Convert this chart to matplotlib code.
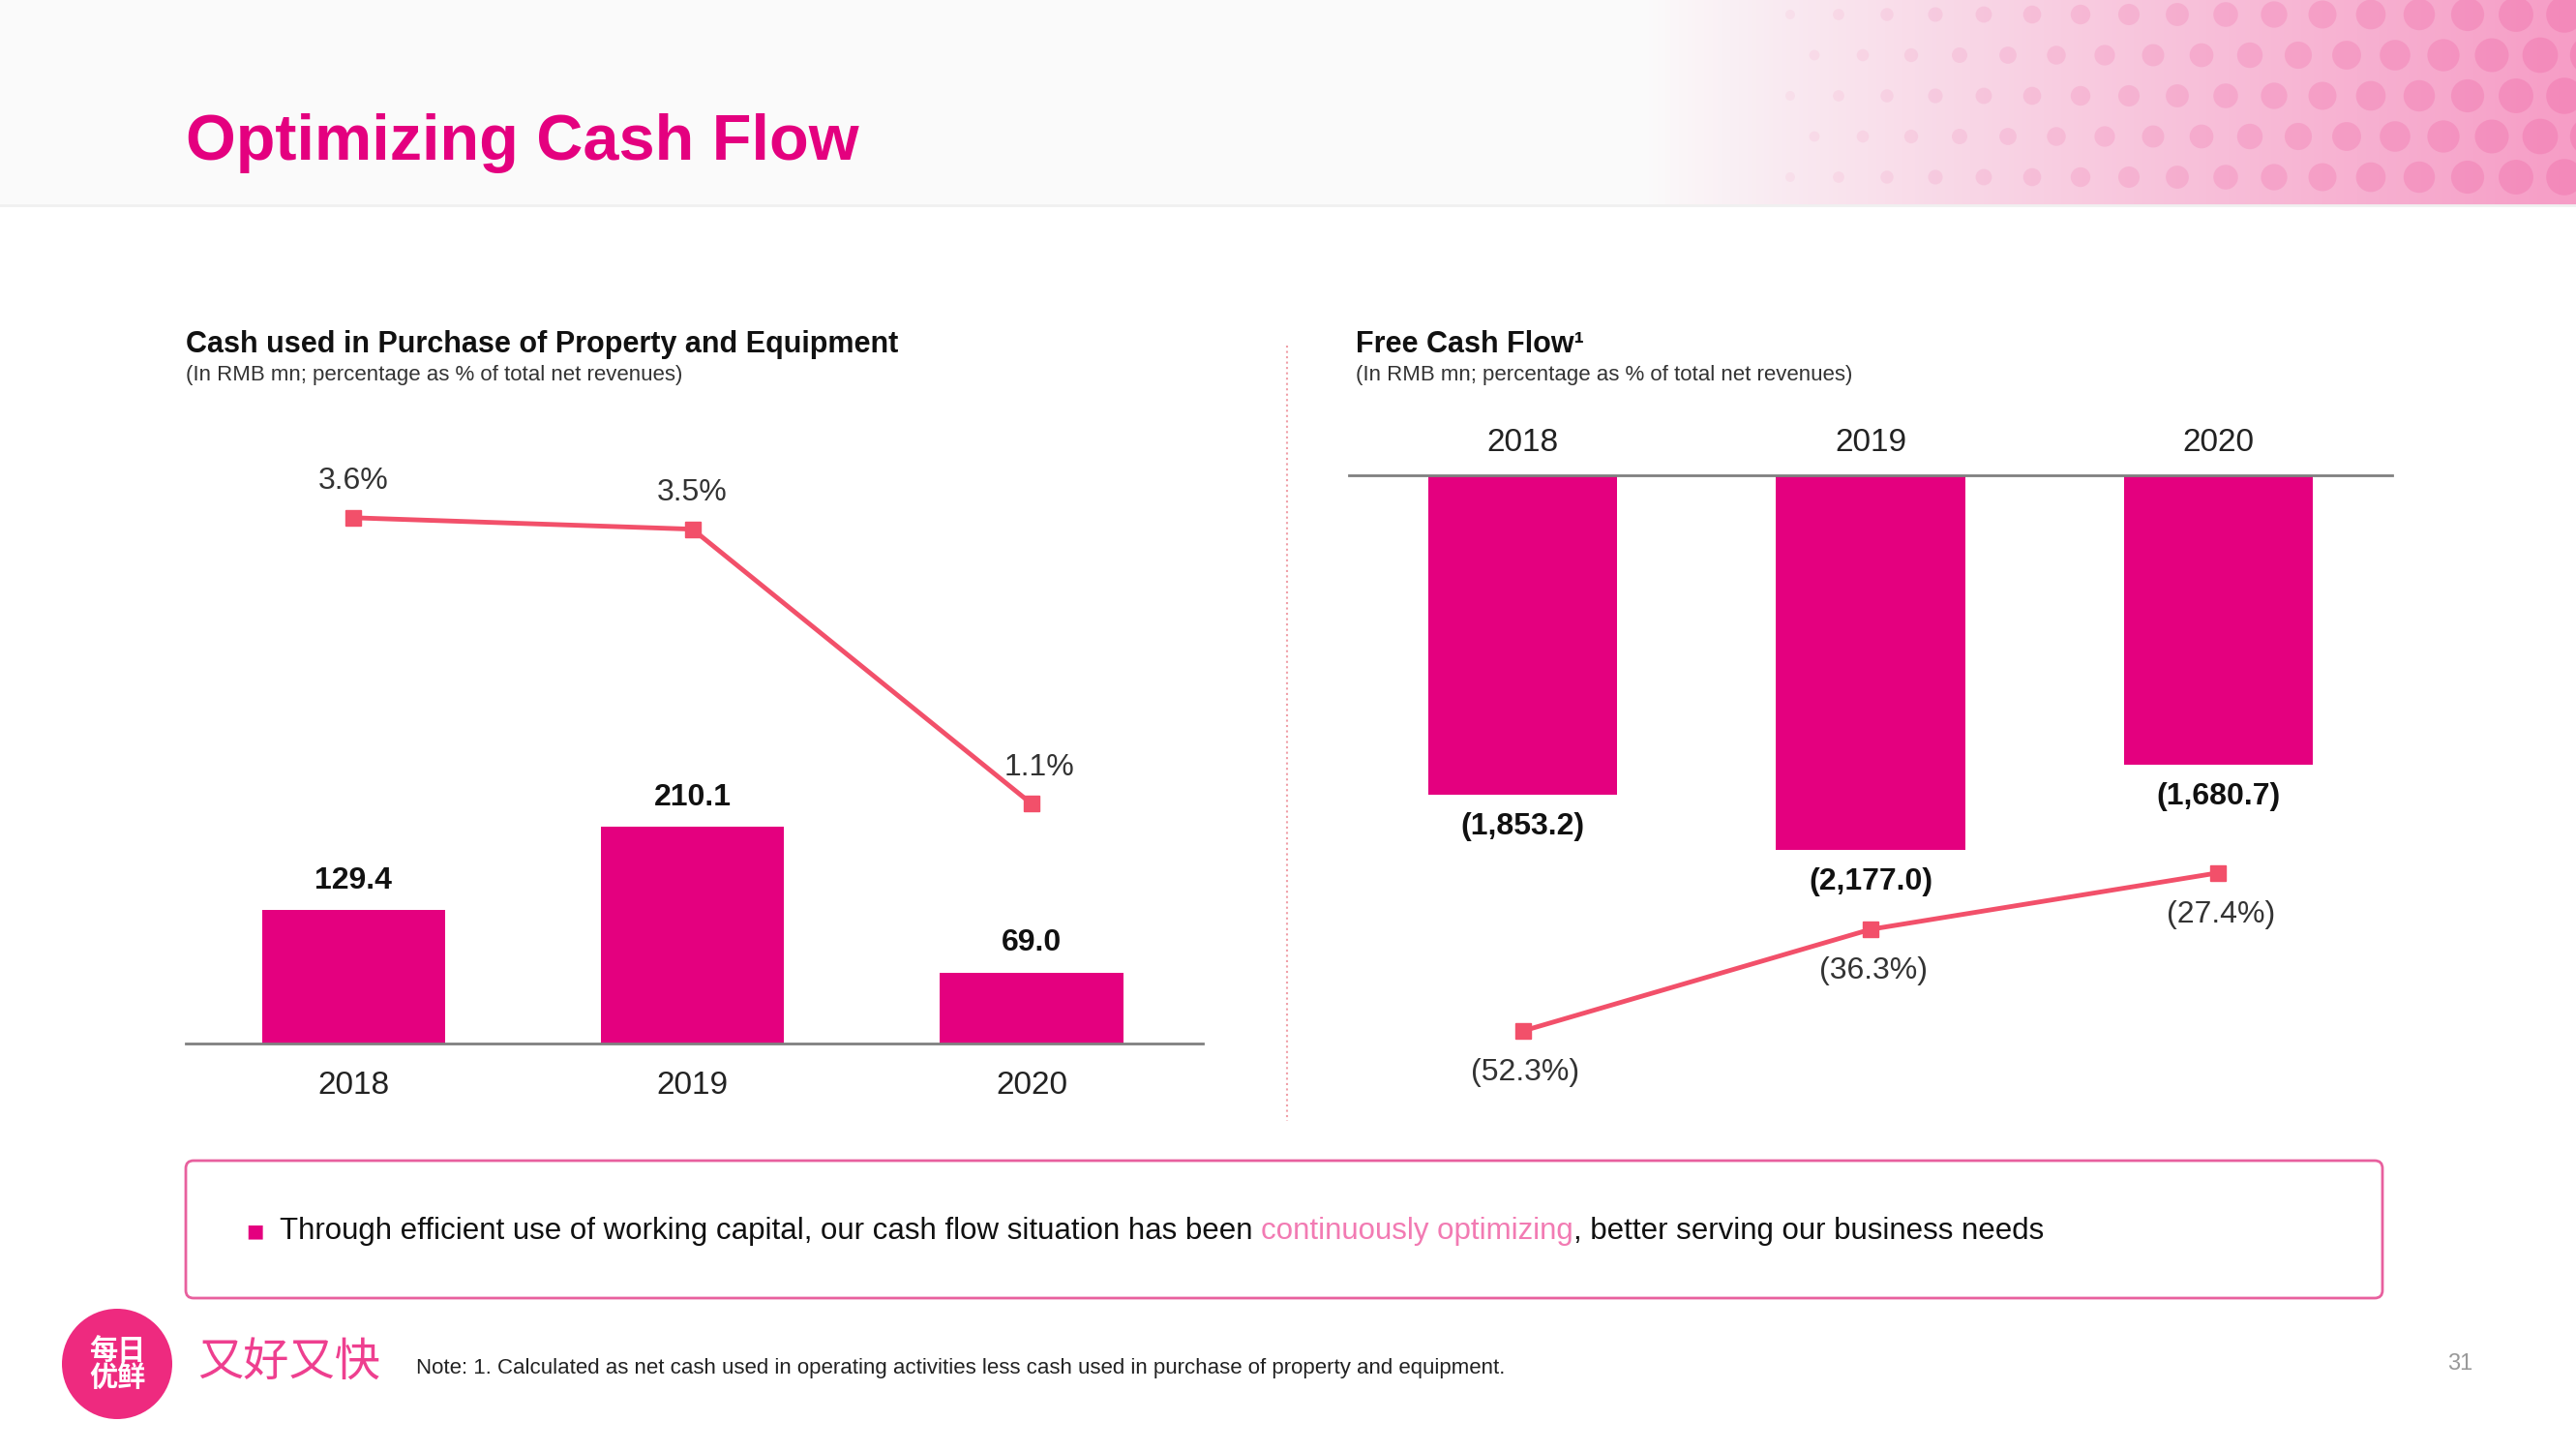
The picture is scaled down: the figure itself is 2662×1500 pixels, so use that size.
import numpy as np
import matplotlib.pyplot as plt
from matplotlib.patches import FancyBboxPatch, Circle

plt.rcParams['font.family'] = ['Liberation Sans', 'Noto Sans CJK SC', 'DejaVu Sans']

# data
years = ['2018', '2019', '2020']
capex = [129.4, 210.1, 69.0]
capex_pct = [3.6, 3.5, 1.1]
fcf = [-1853.2, -2177.0, -1680.7]
fcf_pct = [-52.3, -36.3, -27.4]

MAGENTA = '#E4007F'
LINE = '#F2506A'
W, H = 2662, 1500

fig = plt.figure(figsize=(W / 100, H / 100), dpi=100)

# background / decoration axes in pixel coordinates
bg = fig.add_axes([0, 0, 1, 1], zorder=-1)
bg.set_xlim(0, W)
bg.set_ylim(H, 0)
bg.axis('off')

# header band: faint grey wash with pink gradient on the right
xs = np.linspace(0, 1, 600)
grad = np.clip((xs - 0.64) / 0.36, 0, 1) ** 0.9
img = np.ones((10, 600, 4))
pink = np.array([0.95, 0.45, 0.68])
for i in range(3):
    img[:, :, i] = 1 - (1 - pink[i]) * grad * 0.7 - 0.018 * (1 - grad)
img[:, :, 3] = 1
bg.imshow(img, extent=(0, W, 212, 0), aspect='auto', zorder=0)
# dots in the pink area
for row, yy in enumerate(np.arange(15, 212, 42)):
    for xx in np.arange(1850 + (row % 2) * 25, W + 30, 50):
        f = (xx - 1850) / (W - 1850)
        bg.add_patch(Circle((xx, yy), 5 + 14 * f, color='#F06AA8',
                            alpha=0.08 + 0.3 * f, lw=0, zorder=1))
bg.plot([0, W], [212, 212], color='#F0F0F0', lw=2, zorder=1)

bg.text(192, 148, 'Optimizing Cash Flow', fontsize=48, fontweight='bold',
        color=MAGENTA, va='center', ha='left')

# chart headers
bg.text(192, 356, 'Cash used in Purchase of Property and Equipment',
        fontsize=22, fontweight='bold', color='#111111', va='center')
bg.text(192, 388, '(In RMB mn; percentage as % of total net revenues)',
        fontsize=16, color='#333333', va='center')
bg.text(1401, 356, 'Free Cash Flow¹', fontsize=22, fontweight='bold',
        color='#111111', va='center')
bg.text(1401, 388, '(In RMB mn; percentage as % of total net revenues)',
        fontsize=16, color='#333333', va='center')

# separator
bg.plot([1330, 1330], [357, 1158], ls=':', color='#F0A0A8', lw=1.5)

# ---- left chart ----
ax = fig.add_axes([192 / W, 1 - 1078 / H, 1051 / W, 637 / H])
x = np.arange(len(years))
ax.bar(x, capex, width=0.54, color=MAGENTA, zorder=2)
ax.set_xlim(-0.494, 2.505)
ax.set_ylim(0, 598.7)
ax.set_xticks(x)
ax.set_xticklabels(years, fontsize=24, color='#222222')
ax.tick_params(axis='x', length=0, pad=20)
ax.set_yticks([])
for s in ['top', 'left', 'right']:
    ax.spines[s].set_visible(False)
ax.spines['bottom'].set_color('#808080')
ax.spines['bottom'].set_linewidth(2)
ax.patch.set_alpha(0)
for i, v in enumerate(capex):
    ax.annotate(f'{v:.1f}', (i, v), xytext=(0, 22), textcoords='offset points',
                ha='center', va='center', fontsize=23, fontweight='bold',
                color='#111111')

ax2 = ax.twinx()
ax2.plot(x, capex_pct, color=LINE, lw=3.5, marker='s', ms=11, zorder=3)
ax2.set_ylim(-0.995, 4.394)
ax2.set_yticks([])
for s in ax2.spines.values():
    s.set_visible(False)
for i, p in enumerate(capex_pct):
    dx = 6 if i == 2 else 0
    ax2.annotate(f'{p:.1f}%', (i, p), xytext=(dx, 27), textcoords='offset points',
                 ha='center', va='center', fontsize=23, color='#333333')

# ---- right chart ----
bx = fig.add_axes([1394 / W, 1 - 1172 / H, 1078 / W, 681 / H])
bx.bar(x, fcf, width=0.544, color=MAGENTA, zorder=2)
bx.set_xlim(-0.5, 2.5)
bx.set_ylim(-3830, 0)
bx.xaxis.tick_top()
bx.set_xticks(x)
bx.set_xticklabels(years, fontsize=24, color='#222222')
bx.tick_params(axis='x', length=0, pad=13)
bx.set_yticks([])
for s in ['bottom', 'left', 'right']:
    bx.spines[s].set_visible(False)
bx.spines['top'].set_color('#808080')
bx.spines['top'].set_linewidth(2)
bx.patch.set_alpha(0)
for i, v in enumerate(fcf):
    bx.annotate(f'({abs(v):,.1f})', (i, v), xytext=(0, -24), textcoords='offset points',
                ha='center', va='center', fontsize=23, fontweight='bold',
                color='#111111')

bx2 = bx.twinx()
bx2.plot(x, fcf_pct, color=LINE, lw=3.5, marker='s', ms=11, zorder=3)
bx2.set_ylim(-68.6, 35.2)
bx2.set_yticks([])
for s in bx2.spines.values():
    s.set_visible(False)
for i, p in enumerate(fcf_pct):
    bx2.annotate(f'({abs(p):.1f}%)', (i, p), xytext=(2, -31), textcoords='offset points',
                 ha='center', va='center', fontsize=23, color='#333333')

# ---- takeaway box ----
bg.add_patch(FancyBboxPatch((192, 1199), 2270, 142,
                            boxstyle='round,pad=0,rounding_size=8',
                            fc='white', ec='#E8609E', lw=2, zorder=2))
bg.text(263, 1272, '■', fontsize=14, color=MAGENTA, ha='center', va='center',
        family='DejaVu Sans', zorder=3)
t1 = bg.text(289, 1272, 'Through efficient use of working capital, our cash flow situation has been ',
             fontsize=22.5, color='#111111', va='center', zorder=3)
t2 = bg.annotate('continuously optimizing', xy=(1, 0), xycoords=t1, va='bottom',
                 fontsize=22.5, color='#F27BB3', zorder=3)
bg.annotate(', better serving our business needs', xy=(1, 0), xycoords=t2,
            va='bottom', fontsize=22.5, color='#111111', zorder=3)

# ---- footer ----
bg.add_patch(Circle((121, 1409), 57, color='#EE2A7F', lw=0))
bg.text(121, 1409, '每日\n优鲜', fontsize=21, color='white', ha='center',
        va='center', family='Noto Sans CJK SC', fontweight='bold', linespacing=0.9)
bg.text(204, 1408, '又好又快', fontsize=34, color='#EE3F8F', ha='left',
        va='center', family='Noto Sans CJK SC')
bg.text(430, 1413, 'Note: 1. Calculated as net cash used in operating activities less cash used in purchase of property and equipment.',
        fontsize=16, color='#222222', va='center')
bg.text(2542, 1409, '31', fontsize=17, color='#999999', ha='center', va='center')

fig.savefig('out.png', dpi=100)
